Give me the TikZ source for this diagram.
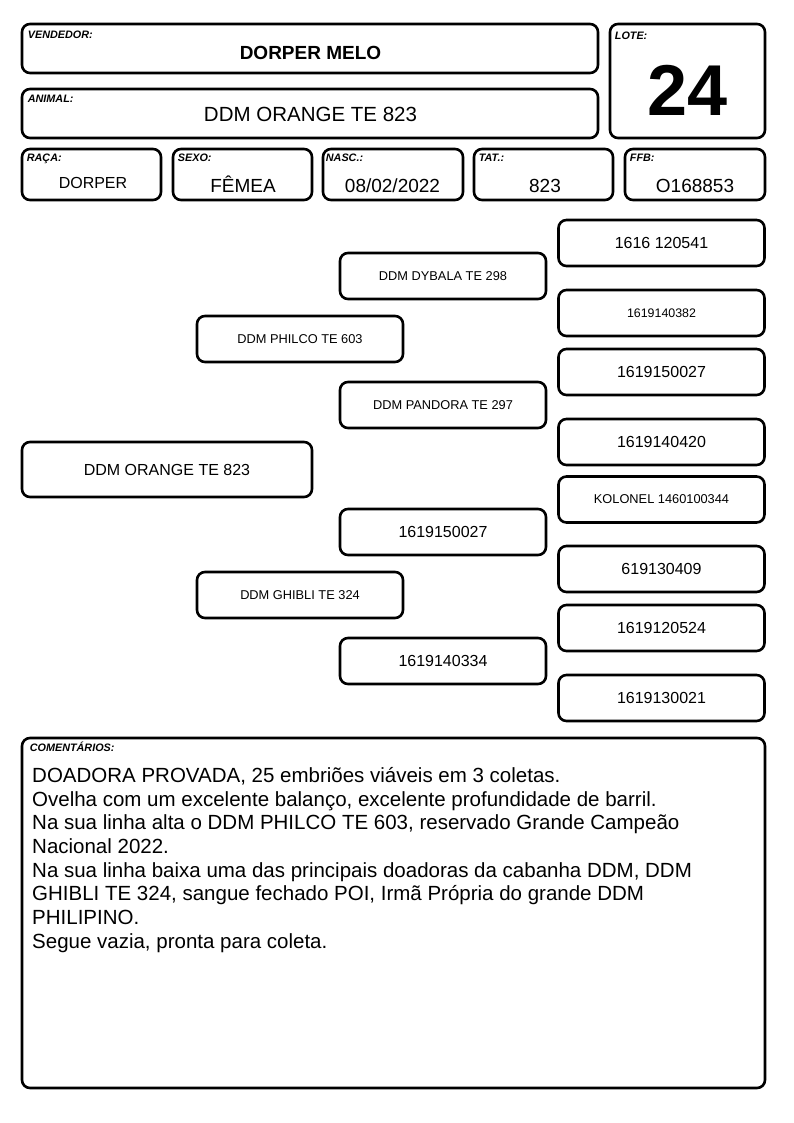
\documentclass[tikz,border=0pt]{standalone}
\usepackage{fontspec}
\setmainfont{Liberation Sans}
\usetikzlibrary{positioning}
\tikzset{
  frame/.style = {draw, rectangle, rounded corners = 8pt, line width = 2.6pt, inner sep = 0pt},
  tag/.style = {font = \fontsize{10.8}{12}\selectfont\bfseries\itshape, inner sep = 0pt, anchor = base west},
  val/.style = {font = \fontsize{19}{22}\selectfont, inner sep = 0pt, anchor = base},
  gen/.style = {frame, minimum width = 206pt, minimum height = 46pt},
  big/.style = {font = \fontsize{16}{18}\selectfont},
  small/.style = {font = \fontsize{12.8}{15}\selectfont}
}

\begin{document}
\begin{tikzpicture}[x = 1pt, y = -1pt]

	\useasboundingbox (0,0) rectangle (794,1123);

	% header boxes
	\node[frame, minimum width = 576pt, minimum height = 49pt] (vendedor) at (310,48.5) {};
	\node[frame, minimum width = 576pt, minimum height = 49pt] (animal) at (310,113.5) {};
	\node[frame, minimum width = 155pt, minimum height = 114pt] (lote) at (687.5,81) {};
	\node[frame, minimum width = 139pt, minimum height = 51pt] (raca) at (91.5,174.5) {};
	\node[frame, minimum width = 139pt, minimum height = 51pt] (sexo) at (242.5,174.5) {};
	\node[frame, minimum width = 140pt, minimum height = 51pt] (nasc) at (393,174.5) {};
	\node[frame, minimum width = 139pt, minimum height = 51pt] (tat) at (543.5,174.5) {};
	\node[frame, minimum width = 140pt, minimum height = 51pt] (ffb) at (695,174.5) {};

	% header labels
	\node[tag] (lvendedor) at ([shift = {(7pt,-16pt)}]vendedor.north west) {VENDEDOR:};
	\node[tag] (lanimal) at ([shift = {(7pt,-15pt)}]animal.north west) {ANIMAL:};
	\node[tag] (llote) at ([shift = {(6pt,-17pt)}]lote.north west) {LOTE:};
	\node[tag] (lraca) at ([shift = {(6pt,-14pt)}]raca.north west) {RAÇA:};
	\node[tag] (lsexo) at ([shift = {(6pt,-14pt)}]sexo.north west) {SEXO:};
	\node[tag] (lnasc) at ([shift = {(4pt,-14pt)}]nasc.north west) {NASC.:};
	\node[tag] (ltat) at ([shift = {(6pt,-14pt)}]tat.north west) {TAT.:};
	\node[tag] (lffb) at ([shift = {(6pt,-14pt)}]ffb.north west) {FFB:};

	% header values
	\node[val, font = \fontsize{19}{22}\selectfont\bfseries] (tvendedor) at (310.5,60) {DORPER MELO};
	\node[val, font = \fontsize{20.5}{24}\selectfont] (tanimal) at (310.5,122) {DDM ORANGE TE 823};
	\node[val, font = \fontsize{72}{80}\selectfont\bfseries] (tlote) at (687.5,116) {24};
	\node[val, font = \fontsize{16}{18}\selectfont] (traca) at (93,189) {DORPER};
	\node[val] (tsexo) at (243,193) {FÊMEA};
	\node[val] (tnasc) at (392.5,193) {08/02/2022};
	\node[val] (ttat) at (545,193) {823};
	\node[val] (tffb) at (695,193) {O168853};

	% pedigree
	\node[frame, big, minimum width = 290pt, minimum height = 55pt] (orange) at (167,469.5) {DDM ORANGE TE 823};

	\node[gen, small] (philco) at (300,339) {DDM PHILCO TE 603};
	\node[gen, small] (ghibli) at (300,595) {DDM GHIBLI TE 324};

	\node[gen, small] (dybala) at (443,276) {DDM DYBALA TE 298};
	\node[gen, small] (pandora) at (443,405) {DDM PANDORA TE 297};
	\node[gen, big] (sireg) at (443,532) {1619150027};
	\node[gen, big] (damg) at (443,661) {1619140334};

	\node[gen, big] (ss1) at (661.5,243) {1616 120541};
	\node[gen, font = \fontsize{12.4}{14}\selectfont] (ss2) at (661.5,313) {1619140382};
	\node[gen, big] (sd1) at (661.5,372) {1619150027};
	\node[gen, big] (sd2) at (661.5,442) {1619140420};
	\node[gen, small] (ds1) at (661.5,499.5) {KOLONEL 1460100344};
	\node[gen, big] (ds2) at (661.5,569) {619130409};
	\node[gen, big] (dd1) at (661.5,628) {1619120524};
	\node[gen, big] (dd2) at (661.5,698) {1619130021};

	% comments
	\node[frame, minimum width = 743pt, minimum height = 350pt] (coment) at (393.5,913) {};
	\node[tag] (lcoment) at ([shift = {(9pt,-15pt)}]coment.north west) {COMENTÁRIOS:};
	\node[inner sep = 0pt, anchor = north west, align = left, font = \fontsize{20.5}{23.7}\selectfont] (tcoment) at (32,767)
		{DOADORA PROVADA, 25 embriões viáveis em 3 coletas.\\
		Ovelha com um excelente balanço, excelente profundidade de barril.\\
		Na sua linha alta o DDM PHILCO TE 603, reservado Grande Campeão\\
		Nacional 2022.\\
		Na sua linha baixa uma das principais doadoras da cabanha DDM, DDM\\
		GHIBLI TE 324, sangue fechado POI, Irmã Própria do grande DDM\\
		PHILIPINO.\\
		Segue vazia, pronta para coleta.};

\end{tikzpicture}
\end{document}
